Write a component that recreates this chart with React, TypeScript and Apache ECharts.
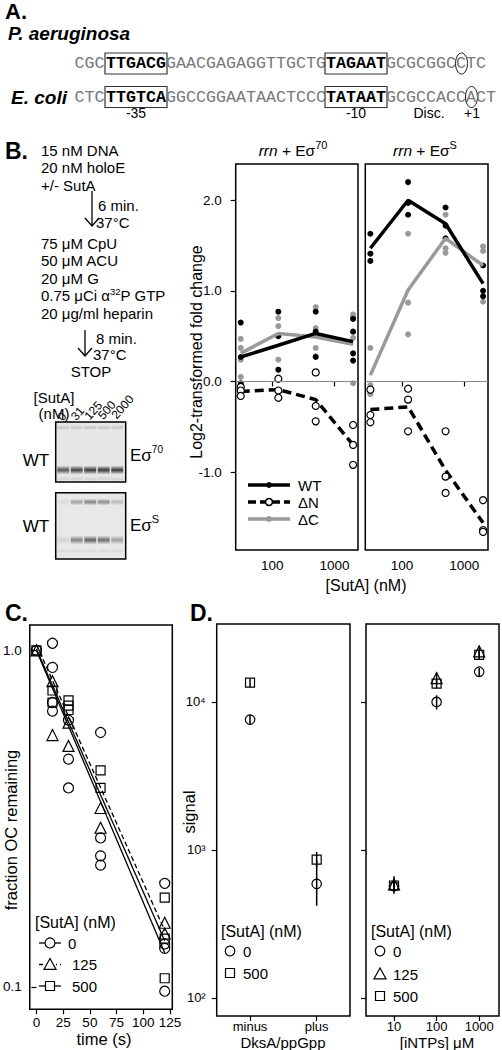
import React, { useEffect, useRef } from "react";
import * as echarts from "echarts";

const FONT = "'Liberation Sans', Arial, Helvetica, sans-serif";
const MONO = "'Liberation Mono', 'Courier New', monospace";

// ---------------- Panel A (sequences) ----------------
const SEQ_PA: [string, number][] = [["CGC", 0], ["TTGACG", 1], ["GAACGAGAGGTTGCTG", 0], ["TAGAAT", 1], ["GCGCGGC", 0], ["C", 2], ["TC", 0]];
const SEQ_EC: [string, number][] = [["CTC", 0], ["TTGTCA", 1], ["GGCCGGAATAACTCCC", 0], ["TATAAT", 1], ["GCGCCACC", 0], ["A", 2], ["CT", 0]];
const SEQ_MARKS = ["-35", "-10", "Disc.", "+1"];

// ---------------- Panel B data ----------------
const SUTA_NM = [31, 125, 500, 2000];
const B_XTICKS = [100, 1000];
const B_YTICKS = [-1, 0, 1, 2];

const S70_WT_PTS = [[0.65, 0.27, -0.02], [0.77, 0.5, 0.13], [0.77, 0.55, 0.27], [0.69, 0.55, 0.31, 0.23]];
const S70_WT_LINE = [0.27, 0.4, 0.53, 0.44];
const S70_DN_PTS = [[-0.06, -0.1, -0.16], [0.03, -0.1, -0.18], [0.1, -0.27, -0.44], [-0.48, -0.7, -0.92]];
const S70_DN_LINE = [-0.11, -0.09, -0.2, -0.7];
const S70_DC_PTS = [[0.47, 0.37, 0.24, 0.05], [0.7, 0.61, 0.24], [0.82, 0.59, 0.37, 0.28], [0.74, 0.71, 0.48, -0.02]];
const S70_DC_LINE = [0.31, 0.53, 0.49, 0.41];

const SS_WT_PTS = [[1.63, 1.41, 1.33], [2.2, 1.97, 1.84], [1.92, 1.72, 1.58], [1.28, 1.0, 0.94]];
const SS_WT_LINE = [1.47, 2.0, 1.74, 1.08];
const SS_DN_PTS = [[-0.09, -0.37, -0.45], [-0.08, -0.2, -0.55], [-0.55, -1.05, -1.23], [-1.31, -1.64, -1.66]];
const SS_DN_LINE = [-0.31, -0.28, -0.98, -1.56];
const SS_DC_PTS = [[0.37, -0.04, -0.14], [1.63, 0.87, 0.52], [1.84, 1.47, 1.42], [1.49, 1.44, 0.88]];
const SS_DC_LINE = [0.07, 1.01, 1.58, 1.28];

// gel band intensities (lanes 0,31,125,500,2000 nM)
const GEL_LANES = ["0", "31", "125", "500", "2000"];
const GEL70_MAIN = [0.72, 0.8, 0.85, 0.85, 0.85];
const GEL70_TOP = [0.14, 0.14, 0.16, 0.16, 0.14];
const GELS_UPPER = [0.06, 0.35, 0.5, 0.45, 0.22];
const GELS_LOWER = [0.1, 0.5, 0.65, 0.6, 0.35];

// ---------------- Panel C data ----------------
const C_TIME = [0, 15, 30, 60, 120];
const C_XTICKS = [0, 25, 50, 75, 100, 125];
const C_YTICKS = [0.1, 1];
const C_0NM = [[1.0], [1.05, 0.89, 0.7, 0.66], [0.62, 0.475, 0.39], [0.57, 0.277, 0.245, 0.23], [0.203, 0.134, 0.13, 0.097]];
const C_125NM = [[1.0], [0.81, 0.56], [0.61, 0.52], [0.34, 0.297], [0.155, 0.144]];
const C_500NM = [[1.0], [0.76, 0.7], [0.71, 0.685, 0.665], [0.44, 0.39], [0.184, 0.139, 0.106]];
const C_FIT_T = [0, 120];
const C_FIT_0 = [1.0, 0.126];
const C_FIT_125 = [1.04, 0.147];
const C_FIT_500 = [1.01, 0.137];
const C_LEGEND = ["0", "125", "500"];

// ---------------- Panel D data ----------------
const D_YTICKS = [100, 1000, 10000];
const D_DKSA_CATS = ["minus", "plus"];
const D_DKSA_0 = [7600, 590];
const D_DKSA_0_ERR = [[7000, 8200], [420, 850]];
const D_DKSA_500 = [13500, 860];
const D_DKSA_500_ERR = [[12600, 14400], [760, 970]];
const D_NTP_X = [10, 100, 1000];
const D_NTP_0 = [570, 10000, 16000];
const D_NTP_0_ERR = [[505, 640], [8900, 11100], [15000, 17000]];
const D_NTP_125 = [585, 14500, 22000];
const D_NTP_125_ERR = [[520, 665], [13500, 15700], [20300, 23800]];
const D_NTP_500 = [575, 13300, 20800];
const D_NTP_500_ERR = [[520, 640], [12400, 14300], [19500, 22200]];

// ---------------- helpers ----------------
let _ctx: CanvasRenderingContext2D | null = null;
function fontStr(size: number, italic?: boolean, bold?: boolean, fam?: string) {
  return `${italic ? "italic " : ""}${bold ? "bold " : ""}${size}px ${fam || FONT}`;
}
function measure(t: string, size: number, italic?: boolean, bold?: boolean, fam?: string) {
  if (!_ctx) _ctx = document.createElement("canvas").getContext("2d");
  if (!_ctx) return t.length * size * 0.55;
  _ctx.font = fontStr(size, italic, bold, fam);
  return _ctx.measureText(t).width;
}
type TO = { size?: number; italic?: boolean; bold?: boolean; fill?: string; fam?: string; align?: string; valign?: string; rot?: number };
function T(text: string, x: number, y: number, o: TO = {}) {
  const align = o.align || "left";
  const valign = o.valign || "middle";
  return {
    type: "text", x, y, rotation: o.rot || 0, silent: true, z: 100,
    style: {
      text, fill: o.fill || "#000", fontSize: o.size || 15, fontFamily: o.fam || FONT,
      fontStyle: o.italic ? "italic" : "normal", fontWeight: o.bold ? "bold" : "normal",
      align, verticalAlign: valign, textAlign: align, textVerticalAlign: valign,
    },
  };
}
type Part = { t: string; size: number; italic?: boolean; bold?: boolean; dy?: number; fill?: string };
function P(parts: Part[], x: number, y: number, align: "left" | "center" | "right") {
  const ws = parts.map((p) => measure(p.t, p.size, p.italic, p.bold));
  const total = ws.reduce((a, b) => a + b, 0);
  let cx = align === "left" ? x : align === "center" ? x - total / 2 : x - total;
  return parts.map((p, i) => {
    const el = T(p.t, cx, y + (p.dy || 0), { size: p.size, italic: p.italic, bold: p.bold, fill: p.fill });
    cx += ws[i];
    return el;
  });
}
function L(x1: number, y1: number, x2: number, y2: number, w = 1.2, color = "#000", dash?: number[]) {
  const style: any = { stroke: color, lineWidth: w };
  if (dash) style.lineDash = dash;
  return { type: "line", silent: true, z: 100, shape: { x1, y1, x2, y2 }, style };
}
function Rect(x: number, y: number, w: number, h: number, style: any) {
  return { type: "rect", silent: true, z: 100, shape: { x, y, width: w, height: h }, style };
}
function Circ(cx: number, cy: number, r: number, fill: string, stroke?: string, lw = 1.2) {
  return { type: "circle", silent: true, z: 101, shape: { cx, cy, r }, style: { fill, stroke: stroke || "none", lineWidth: lw } };
}
function Tri(cx: number, cy: number, s: number) {
  return { type: "polygon", silent: true, z: 101, shape: { points: [[cx, cy - s * 0.55], [cx + s * 0.55, cy + s * 0.45], [cx - s * 0.55, cy + s * 0.45]] }, style: { fill: "none", stroke: "#000", lineWidth: 1.2 } };
}
function Sq(cx: number, cy: number, s: number) {
  return Rect(cx - s / 2, cy - s / 2, s, s, { fill: "none", stroke: "#000", lineWidth: 1.2 });
}
function arrow(x: number, y1: number, y2: number) {
  return [L(x, y1, x, y2, 1.3), { type: "polyline", silent: true, z: 100, shape: { points: [[x - 7, y2 - 8], [x, y2], [x + 7, y2 - 8]] }, style: { stroke: "#000", lineWidth: 1.3, fill: "none" } }];
}
function band(x: number, y: number, w: number, h: number, a: number) {
  return Rect(x, y, w, h, {
    fill: { type: "linear", x: 0, y: 0, x2: 0, y2: 1, colorStops: [
      { offset: 0, color: "rgba(25,25,25,0)" }, { offset: 0.5, color: `rgba(25,25,25,${a})` }, { offset: 1, color: "rgba(25,25,25,0)" }] },
  });
}

const pts = (arr: number[][], xs: number[]) => arr.flatMap((vals, i) => vals.map((v) => [xs[i], v]));
const ln = (arr: number[], xs: number[]) => arr.map((v, i) => [xs[i], v]);

function buildGraphic() {
  const g: any[] = [];
  // ---- Panel A ----
  g.push(T("A.", 5, 11, { size: 22, bold: true }));
  g.push(T("P. aeruginosa", 8, 33, { size: 19, bold: true, italic: true }));
  g.push(T("E. coli", 11, 97, { size: 19, bold: true, italic: true }));
  const seqRow = (segs: [string, number][], y: number) => {
    let cx = 106;
    segs.forEach(([s, kind], i) => {
      if (i === 0) {
        g.push(T(s, 104.5, y, { size: 16.67, fam: MONO, fill: "#777", align: "right" }));
        return;
      }
      g.push(T(s, cx, y, { size: 16.67, fam: MONO, fill: kind === 1 ? "#000" : "#777", bold: kind === 1 }));
      if (kind === 1) g.push(Rect(cx - 1, y - 10.5, 62, 21, { fill: "none", stroke: "#333", lineWidth: 1.2 }));
      if (kind === 2) g.push({ type: "ellipse", silent: true, z: 100, shape: { cx: cx + 5.5, cy: y, rx: 6, ry: 10.5 }, style: { fill: "none", stroke: "#111", lineWidth: 1 } });
      cx += s.length * 10;
    });
  };
  seqRow(SEQ_PA, 63.5);
  seqRow(SEQ_EC, 97);
  const markX = [136, 356, 429, 472];
  SEQ_MARKS.forEach((m, i) => g.push(T(m, markX[i], 113, { size: 14, align: "center" })));

  // ---- Panel B protocol ----
  g.push(T("B.", 5, 151, { size: 23, bold: true }));
  const pl = (t: string, y: number) => g.push(T(t, 41, y, { size: 15 }));
  pl("15 nM DNA", 150);
  pl("20 nM holoE", 167.5);
  pl("+/- SutA", 185);
  g.push(...arrow(92, 191, 226));
  g.push(T("6 min.", 98, 205, { size: 15 }));
  g.push(T("37°C", 96, 222, { size: 15 }));
  pl("75 μM CpU", 243);
  pl("50 μM ACU", 260.5);
  pl("20 μM G", 278);
  g.push(...P([{ t: "0.75 μCi α", size: 15 }, { t: "32", size: 9.5, dy: -4.5 }, { t: "P GTP", size: 15 }], 41, 295.5, "left"));
  pl("20 μg/ml heparin", 313);
  g.push(...arrow(85, 330, 356));
  g.push(T("8 min.", 96, 338, { size: 15 }));
  g.push(T("37°C", 93, 354, { size: 15 }));
  g.push(T("STOP", 91, 371, { size: 15, align: "center" }));

  // ---- Gel ----
  g.push(T("[SutA]", 54, 397, { size: 15, align: "center" }));
  g.push(T("(nM)", 54, 413, { size: 15, align: "center" }));
  const gx = 55.7, gw = 70;
  GEL_LANES.forEach((l, i) => g.push(T(l, gx + 4 + i * 13.5, 419 - i * 0.5, { size: 12, valign: "middle", rot: 0.85 })));
  g.push(Rect(gx, 422, gw, 60, { fill: "#e6e6e6", stroke: "none" }));
  g.push(Rect(gx, 492.7, gw, 66.3, { fill: "#e8e8e8", stroke: "none" }));
  for (let i = 0; i < 5; i++) {
    const lx = gx + 1.5 + i * 13.5;
    g.push(band(lx, 425, 12, 5, GEL70_TOP[i]));
    g.push(band(lx, 465.5, 12, 9, GEL70_MAIN[i]));
    g.push(band(lx, 477, 12, 4, 0.1));
    g.push(band(lx, 498.5, 12, 7, GELS_UPPER[i]));
    g.push(band(lx, 535.5, 12, 9, GELS_LOWER[i]));
    g.push(band(lx, 549, 12, 4, 0.07));
  }
  g.push(Rect(gx, 422, gw, 60, { fill: "none", stroke: "#000", lineWidth: 1.5 }));
  g.push(Rect(gx, 492.7, gw, 66.3, { fill: "none", stroke: "#000", lineWidth: 1.5 }));
  g.push(T("WT", 36, 460, { size: 17, align: "center" }));
  g.push(T("WT", 36, 526.5, { size: 17, align: "center" }));
  g.push(...P([{ t: "Eσ", size: 17 }, { t: "70", size: 10, dy: -6 }], 130, 455, "left"));
  g.push(...P([{ t: "Eσ", size: 17 }, { t: "S", size: 11, dy: -6 }], 130, 525, "left"));

  // ---- Panel B chart texts ----
  g.push(...P([{ t: "rrn", size: 15.5, italic: true }, { t: " + Eσ", size: 15.5 }, { t: "70", size: 11, dy: -5.5 }], 293, 150, "center"));
  g.push(...P([{ t: "rrn", size: 15.5, italic: true }, { t: " + Eσ", size: 15.5 }, { t: "S", size: 11, dy: -5.5 }], 425, 150, "center"));
  g.push(T("Log2-transformed fold change", 196, 352, { size: 16, align: "center", rot: Math.PI / 2 }));
  g.push(T("[SutA] (nM)", 366, 585, { size: 16, align: "center" }));
  // legend
  const legB: [string, number, string, boolean, boolean][] = [["WT", 485, "#000", false, false], ["ΔN", 502, "#000", true, true], ["ΔC", 519, "#999", false, false]];
  legB.forEach(([lab, y, col, dash, open]) => {
    g.push(L(248, y, 290, y, 3.5, col, dash ? [8, 4] : undefined));
    g.push(open ? Circ(269, y, 3.5, "#fff", "#000", 1.6) : Circ(269, y, 3, col));
    g.push(T(lab, 298, y, { size: 15 }));
  });

  // ---- Panel C texts ----
  g.push(T("C.", 5, 613, { size: 23, bold: true }));
  g.push(T("fraction OC remaining", 11, 830, { size: 16.5, align: "center", rot: Math.PI / 2 }));
  g.push(T("time (s)", 104, 1039, { size: 16.5, align: "center" }));
  g.push(T("[SutA] (nM)", 35, 922, { size: 16 }));
  const cRows = [943, 964.5, 986];
  C_LEGEND.forEach((lab, i) => {
    const y = cRows[i];
    g.push(L(39, y, 61, y, 1.3, "#000", i === 1 ? [4, 3] : undefined));
    if (i === 0) g.push(Circ(50, y, 5, "#fff", "#000", 1.2));
    if (i === 1) { g.push(Rect(44, y - 6, 12, 12, { fill: "#fff", stroke: "none" })); g.push(Tri(50, y, 11)); }
    if (i === 2) { g.push(Rect(45.5, y - 4.5, 9, 9, { fill: "#fff", stroke: "none" })); g.push(Sq(50, y, 9)); }
    g.push(T(lab, i === 0 ? 68 : 72, y, { size: 15 }));
  });

  // ---- Panel D texts ----
  g.push(T("D.", 190, 613, { size: 23, bold: true }));
  g.push(T("signal", 189, 812, { size: 16.5, align: "center", rot: Math.PI / 2 }));
  g.push(T("DksA/ppGpp", 283, 1042.5, { size: 15, align: "center" }));
  g.push(T("[iNTPs] μM", 437, 1042.5, { size: 15, align: "center" }));
  g.push(T("[SutA] (nM)", 221, 931, { size: 16 }));
  g.push(Circ(230, 951, 4.8, "none", "#000", 1.2));
  g.push(T("0", 243, 951, { size: 15 }));
  g.push(Sq(230, 973, 9));
  g.push(T("500", 243, 973, { size: 15 }));
  g.push(T("[SutA] (nM)", 371, 931, { size: 16 }));
  g.push(Circ(380, 951, 4.8, "none", "#000", 1.2));
  g.push(T("0", 393, 951, { size: 15 }));
  g.push(Tri(380, 974, 11));
  g.push(T("125", 393, 974, { size: 15 }));
  g.push(Sq(380, 996, 9));
  g.push(T("500", 393, 996, { size: 15 }));
  return g;
}

function buildOption(): any {
  const tick = (customValues?: number[], show = true) => ({ show, length: 5, inside: false, alignWithLabel: true, lineStyle: { color: "#000", width: 1.2 }, ...(customValues ? { customValues } : {}) });
  const lab = (extra: any) => ({ color: "#000", fontFamily: FONT, fontSize: 13.5, ...extra });
  const noLine = { show: false };
  const noSplit = { show: false };
  const gridStyle = { show: true, borderColor: "#000", borderWidth: 1.5, containLabel: false };

  const bX = (gi: number) => ({
    type: "log", logBase: 10, gridIndex: gi, min: 25.7, max: 2400, axisLine: noLine, splitLine: noSplit,
    axisTick: tick(B_XTICKS), axisLabel: lab({ customValues: B_XTICKS, margin: 8, formatter: (v: number) => String(Math.round(v)) }),
  });
  const bY = (gi: number, show: boolean) => ({
    type: "value", gridIndex: gi, min: -1.86, max: 2.4, axisLine: noLine, splitLine: noSplit,
    axisTick: tick(B_YTICKS, show), axisLabel: lab({ show, customValues: B_YTICKS, margin: 14, formatter: (v: number) => v.toFixed(1) }),
  });
  const dY = (gi: number, show: boolean) => ({
    type: "log", logBase: 10, gridIndex: gi, min: 75.5, max: 33650, axisLine: noLine, splitLine: noSplit,
    axisTick: tick(D_YTICKS), axisLabel: lab({ show, customValues: D_YTICKS, margin: 11, fontSize: 13, formatter: (v: number) => (v >= 5000 ? "10⁴" : v >= 500 ? "10³" : "10²") }),
  });

  const hollow = (sym: string, size: number, x: number, y: number, data: any[], fill = "rgba(255,255,255,0)") => ({
    type: "scatter", xAxisIndex: x, yAxisIndex: y, symbol: sym, symbolSize: size, data, z: 4,
    itemStyle: { color: fill, borderColor: "#000", borderWidth: 1.2, opacity: 1 }, silent: true,
  });
  const dots = (x: number, data: any[], color: string) => ({
    type: "scatter", xAxisIndex: x, yAxisIndex: x, symbol: "circle", symbolSize: 6, data, z: 2, itemStyle: { color, opacity: 1 }, silent: true,
  });
  const thick = (x: number, data: any[], color: string, dash?: number[]) => ({
    type: "line", xAxisIndex: x, yAxisIndex: x, data, symbol: "none", showSymbol: false, z: 3, silent: true,
    lineStyle: { color, width: 3.5, type: dash || "solid", cap: "butt" },
  });
  const zeroLine = { silent: true, symbol: ["none", "none"], label: { show: false }, lineStyle: { color: "#888", width: 1, type: "solid" }, data: [{ yAxis: 0 }] };
  const thin = (data: any[], dash?: number[]) => ({
    type: "line", xAxisIndex: 2, yAxisIndex: 2, data, symbol: "none", showSymbol: false, z: 3, silent: true,
    lineStyle: { color: "#000", width: 1.3, type: dash || "solid" },
  });
  const errBars = (x: number, data: any[]) => ({
    type: "custom", xAxisIndex: x, yAxisIndex: x, data, z: 3, silent: true, clip: false,
    encode: { x: 0, y: [1, 2] },
    renderItem: (_p: any, api: any) => {
      const a = api.coord([api.value(0), api.value(1)]);
      const b = api.coord([api.value(0), api.value(2)]);
      return { type: "line", shape: { x1: a[0], y1: a[1], x2: b[0], y2: b[1] }, style: { stroke: "#000", lineWidth: 1.5 } };
    },
  });

  const bPanel = (i: number, WT: number[][], WTL: number[], DN: number[][], DNL: number[], DC: number[][], DCL: number[]) => [
    { ...dots(i, pts(DC, SUTA_NM), "#9a9a9a"), markLine: zeroLine },
    dots(i, pts(WT, SUTA_NM), "#000"),
    thick(i, ln(DCL, SUTA_NM), "#9a9a9a"),
    thick(i, ln(WTL, SUTA_NM), "#000"),
    thick(i, ln(DNL, SUTA_NM), "#000", [9, 5]),
    hollow("circle", 7, i, i, pts(DN, SUTA_NM), "#fff"),
  ];

  return {
    animation: false,
    textStyle: { fontFamily: FONT },
    grid: [
      { left: 235.7, top: 164, width: 122.3, height: 386, ...gridStyle },
      { left: 365.3, top: 164, width: 122.7, height: 386, ...gridStyle },
      { left: 29.3, top: 625, width: 143, height: 384.3, ...gridStyle },
      { left: 216.7, top: 624, width: 133.3, height: 392, ...gridStyle },
      { left: 366, top: 624, width: 133, height: 392, ...gridStyle },
    ],
    xAxis: [
      bX(0),
      bX(1),
      { type: "value", gridIndex: 2, min: -6.25, max: 127.1, axisLine: noLine, splitLine: noSplit, axisTick: tick(C_XTICKS), axisLabel: lab({ customValues: C_XTICKS, margin: 6 }) },
      { type: "category", gridIndex: 3, data: D_DKSA_CATS, boundaryGap: true, axisLine: noLine, splitLine: noSplit, axisTick: tick(), axisLabel: lab({ margin: 4, fontSize: 13 }) },
      { type: "log", logBase: 10, gridIndex: 4, min: 2.2, max: 2917, axisLine: noLine, splitLine: noSplit, axisTick: tick([10, 100, 1000]), axisLabel: lab({ customValues: [10, 100, 1000], margin: 4, fontSize: 13, formatter: (v: number) => String(Math.round(v)) }) },
    ],
    yAxis: [
      bY(0, true),
      bY(1, false),
      { type: "log", logBase: 10, gridIndex: 2, min: 0.0857, max: 1.19, axisLine: noLine, splitLine: noSplit, axisTick: tick(C_YTICKS), axisLabel: lab({ customValues: C_YTICKS, margin: 8, formatter: (v: number) => (v > 0.5 ? "1.0" : "0.1") }) },
      dY(3, true),
      dY(4, false),
    ],
    series: [
      ...bPanel(0, S70_WT_PTS, S70_WT_LINE, S70_DN_PTS, S70_DN_LINE, S70_DC_PTS, S70_DC_LINE),
      ...bPanel(1, SS_WT_PTS, SS_WT_LINE, SS_DN_PTS, SS_DN_LINE, SS_DC_PTS, SS_DC_LINE),
      thin(ln(C_FIT_0, C_FIT_T)),
      thin(ln(C_FIT_125, C_FIT_T), [5, 3]),
      thin(ln(C_FIT_500, C_FIT_T)),
      hollow("circle", 10, 2, 2, pts(C_0NM, C_TIME)),
      hollow("triangle", 11, 2, 2, pts(C_125NM, C_TIME)),
      hollow("rect", 9, 2, 2, pts(C_500NM, C_TIME)),
      errBars(3, [...D_DKSA_0_ERR.map((e, i) => [i, e[0], e[1]]), ...D_DKSA_500_ERR.map((e, i) => [i, e[0], e[1]])]),
      hollow("circle", 9.5, 3, 3, D_DKSA_0.map((v, i) => [i, v])),
      hollow("rect", 9, 3, 3, D_DKSA_500.map((v, i) => [i, v])),
      errBars(4, [...D_NTP_0_ERR, ...D_NTP_125_ERR, ...D_NTP_500_ERR].map((e, k) => [D_NTP_X[k % 3], e[0], e[1]])),
      hollow("circle", 9.5, 4, 4, ln(D_NTP_0, D_NTP_X)),
      hollow("triangle", 11, 4, 4, ln(D_NTP_125, D_NTP_X)),
      hollow("rect", 9, 4, 4, ln(D_NTP_500, D_NTP_X)),
    ],
    graphic: { elements: buildGraphic() },
  };
}

export default function App() {
  const ref = useRef<HTMLDivElement>(null);
  useEffect(() => {
    if (!ref.current) return;
    const chart = echarts.init(ref.current, undefined, { renderer: "svg", width: 502, height: 1050 });
    chart.setOption(buildOption());
    return () => chart.dispose();
  }, []);
  return <div ref={ref} style={{ position: "fixed", left: 0, top: 0, width: 502, height: 1050, background: "#fff" }} />;
}
